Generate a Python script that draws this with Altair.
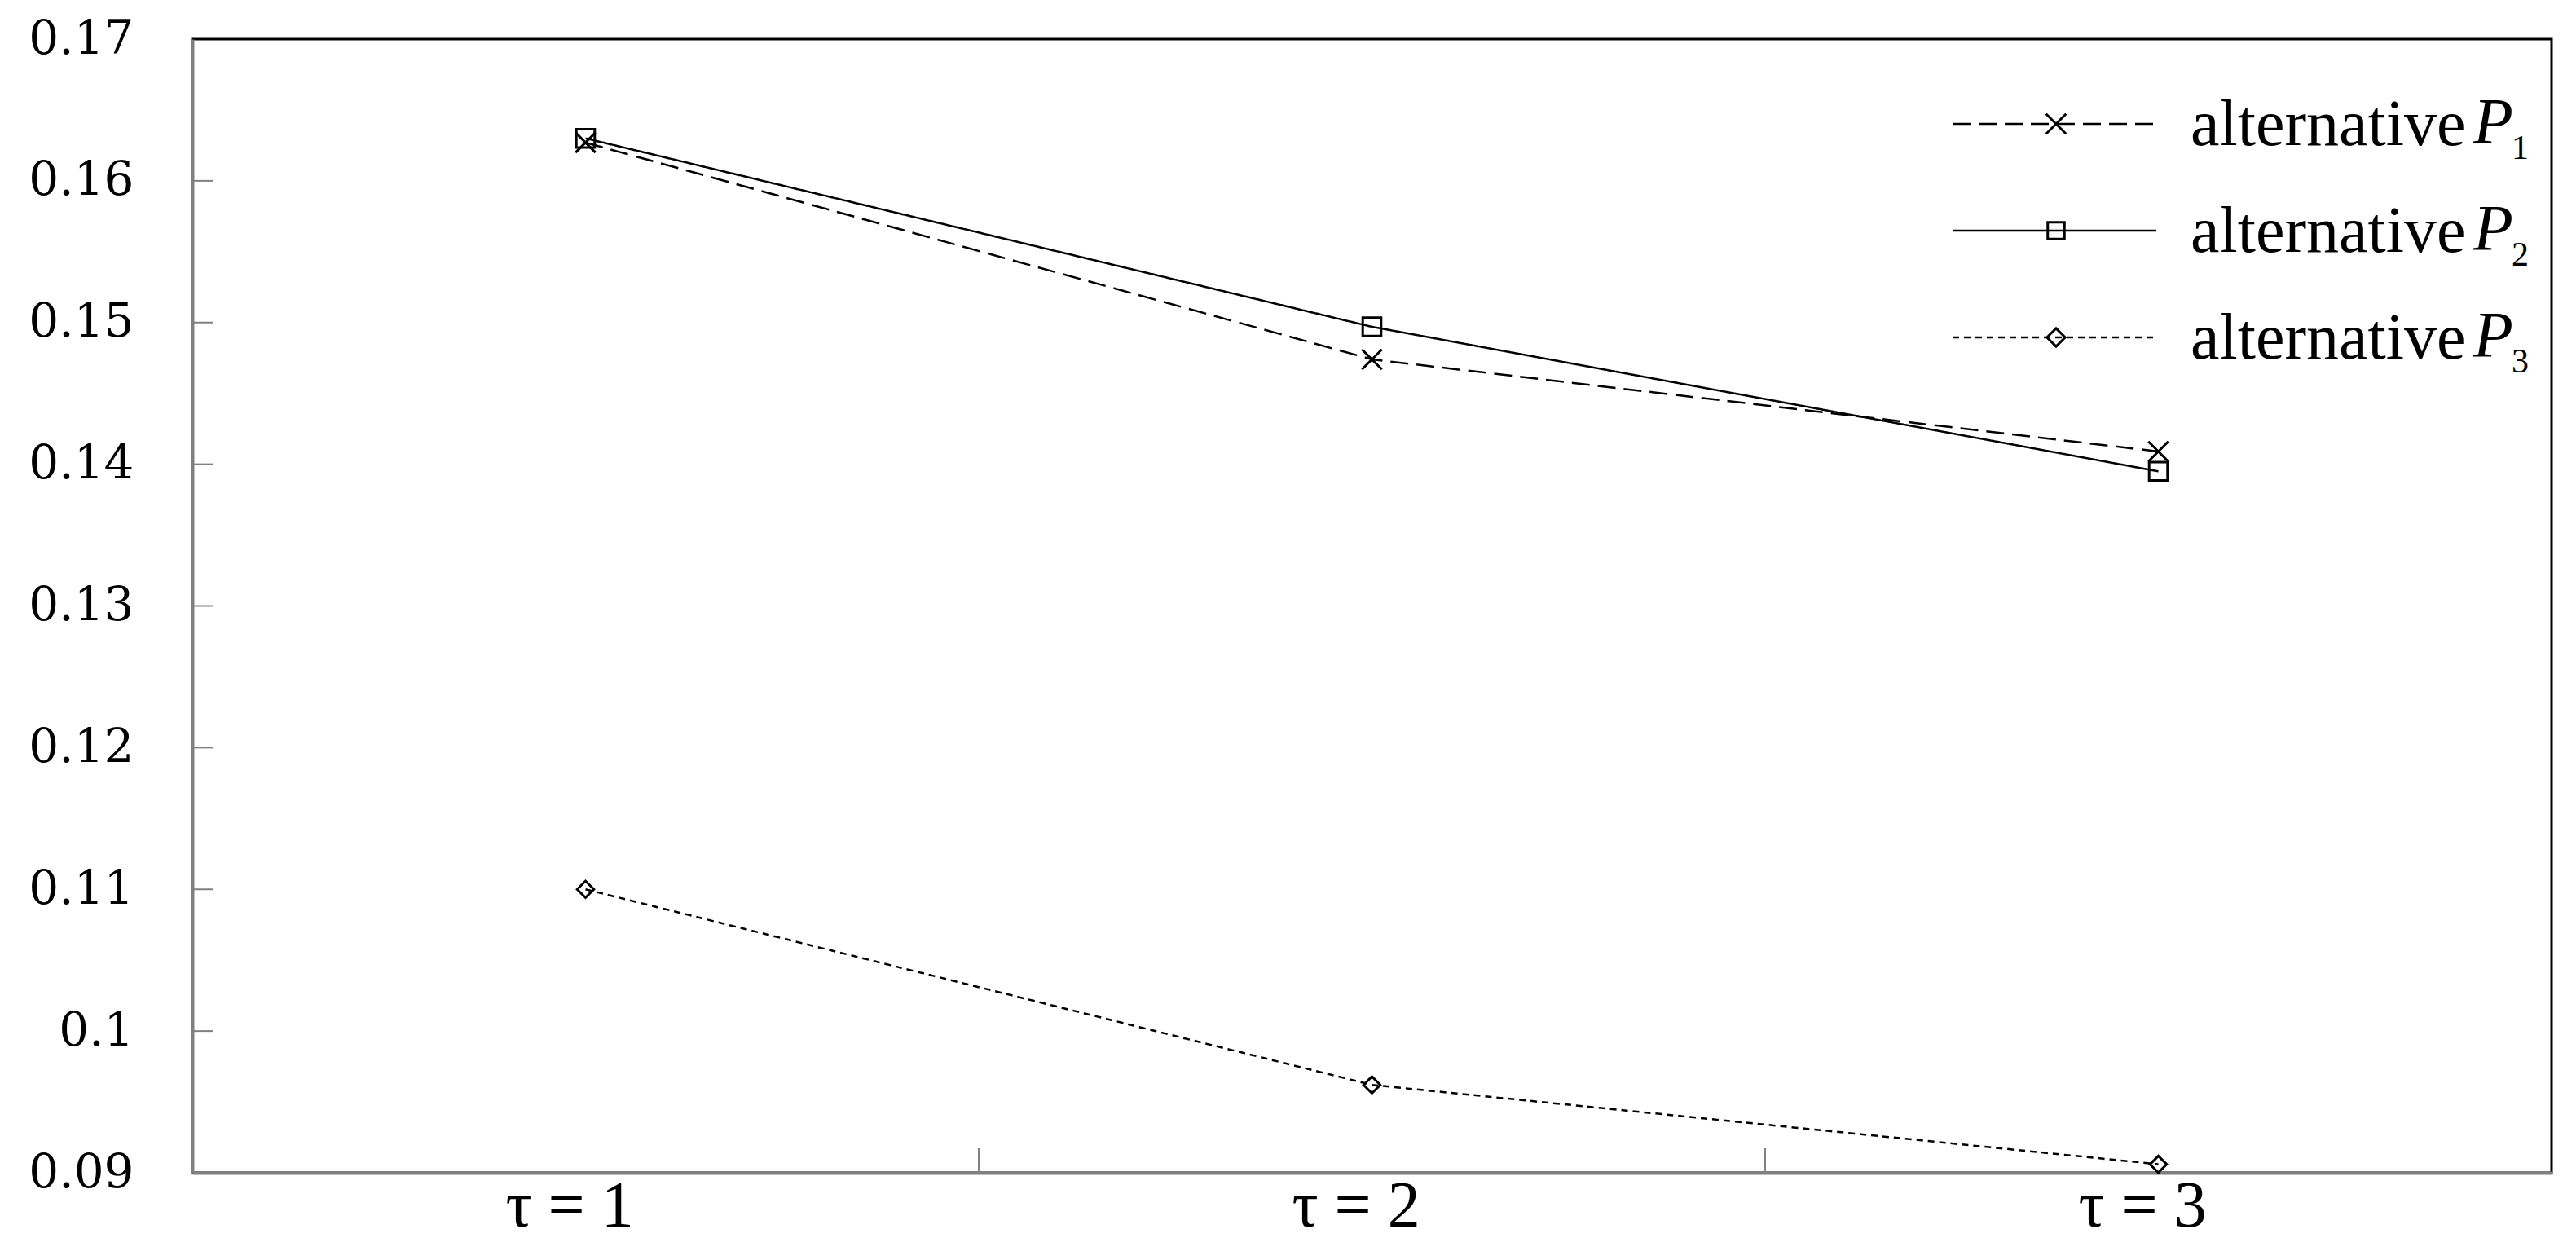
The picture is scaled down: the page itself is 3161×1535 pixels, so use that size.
import altair as alt
import pandas as pd

# ---- data ----
taus = [1, 2, 3]
series_names = ["P1", "P2", "P3"]
p1_values = [0.1627, 0.1474, 0.1409]
p2_values = [0.1630, 0.1497, 0.1395]
p3_values = [0.1100, 0.0962, 0.0906]
y_tick_values = [0.09, 0.10, 0.11, 0.12, 0.13, 0.14, 0.15, 0.16, 0.17]
inner_y_ticks = [0.10, 0.11, 0.12, 0.13, 0.14, 0.15, 0.16]
x_boundaries = [1.5, 2.5]
legend_word = "alternative"
legend_letter = "P"
legend_subscripts = ["1", "2", "3"]

# ---- styles ----
W, H = 2895, 1391
SERIF = "'Liberation Serif', 'Times New Roman', serif"
dashes = [[22, 10], [1, 0], [8, 6]]
shapes = ["M-1,-1L1,1M-1,1L1,-1", "square", "diamond"]
sizes = [600, 420, 500]
GRAY = "#808080"

rows = []
for name, vals in zip(series_names, [p1_values, p2_values, p3_values]):
    for t, v in zip(taus, vals):
        rows.append({"series": name, "tau": t, "value": v})
df = pd.DataFrame(rows)

x_scale = alt.Scale(domain=[0.5, 3.5], nice=False, zero=False)
y_scale = alt.Scale(domain=[0.09, 0.17], nice=False, zero=False)

x_axis = alt.Axis(values=taus, labelExpr="'τ = ' + datum.value", ticks=False, grid=False,
                  domainColor=GRAY, domainWidth=4, labelFont=SERIF,
                  labelFontSize=80, labelColor="black", labelPadding=2, labelOffset=-20,
                  title=None, labelFlush=False)
y_axis = alt.Axis(values=y_tick_values, format=".2~f", ticks=False, grid=False,
                  domainColor=GRAY, domainWidth=4, labelFont="DejaVu Serif",
                  labelFontSize=58, labelColor="black", labelPadding=72, title=None,
                  labelFlush=False)

X = alt.X("tau:Q", scale=x_scale, axis=x_axis)
Y = alt.Y("value:Q", scale=y_scale, axis=y_axis)

dash_enc = alt.StrokeDash("series:N", scale=alt.Scale(domain=series_names, range=dashes), legend=None)
shape_enc = alt.Shape("series:N", scale=alt.Scale(domain=series_names, range=shapes), legend=None)
size_enc = alt.Size("series:N", scale=alt.Scale(domain=series_names, range=sizes), legend=None)

lines = alt.Chart(df).mark_line(color="black", strokeWidth=2.5).encode(
    x=X, y=Y, strokeDash=dash_enc, detail="series:N")
points = alt.Chart(df).mark_point(color="black", filled=False, strokeWidth=3, opacity=1).encode(
    x=X, y=Y, shape=shape_enc, size=size_enc)

ytick_df = pd.DataFrame({"value": inner_y_ticks})
yticks = alt.Chart(ytick_df).mark_rule(color=GRAY, strokeWidth=2).encode(
    y=Y, x=alt.value(0), x2=alt.value(25))
xtick_df = pd.DataFrame({"tau": x_boundaries})
xticks = alt.Chart(xtick_df).mark_rule(color=GRAY, strokeWidth=2).encode(
    x=X, y=alt.value(H - 30), y2=alt.value(H))

layers = [lines, points, yticks, xticks]

# ---- legend (top right, inside plot) ----
for i, name in enumerate(series_names):
    ry = 104 + 131 * i
    ldf = pd.DataFrame({"series": [name], "word": [legend_word], "letter": [legend_letter],
                        "sub": [legend_subscripts[i]]})
    base = alt.Chart(ldf)
    layers.append(base.mark_rule(color="black", strokeWidth=2.5, strokeDash=dashes[i]).encode(
        x=alt.value(2160), x2=alt.value(2410), y=alt.value(ry)))
    layers.append(base.mark_point(color="black", filled=False, strokeWidth=3, opacity=1,
                                  shape=shapes[i], size=sizes[i]).encode(
        x=alt.value(2287), y=alt.value(ry)))
    layers.append(base.mark_text(align="left", baseline="alphabetic", font=SERIF,
                                 fontSize=80, color="black").encode(
        x=alt.value(2452), y=alt.value(ry + 26), text="word:N"))
    layers.append(base.mark_text(align="left", baseline="alphabetic", font=SERIF,
                                 fontSize=80, fontStyle="italic", color="black").encode(
        x=alt.value(2799), y=alt.value(ry + 24), text="letter:N"))
    layers.append(base.mark_text(align="left", baseline="alphabetic", font=SERIF,
                                 fontSize=42, color="black").encode(
        x=alt.value(2846), y=alt.value(ry + 43), text="sub:N"))

chart = alt.layer(*layers).properties(
    width=W, height=H,
    background="white",
    autosize=alt.AutoSizeParams(type="none"),
    padding={"left": 228, "top": 40, "right": 22, "bottom": 86},
).configure_view(stroke="black", strokeWidth=3)

chart.save("out.html", embed_options={"renderer": "svg", "actions": False})
